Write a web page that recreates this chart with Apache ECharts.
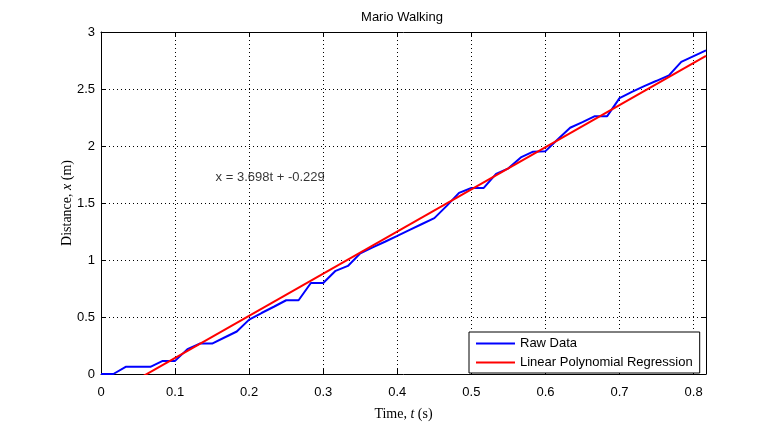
<!DOCTYPE html>
<html>
<head>
<meta charset="utf-8">
<script src="https://cdn.jsdelivr.net/npm/echarts@6/dist/echarts.min.js"></script>
<style>
html,body{margin:0;padding:0;background:#fff;}
#chart{width:779px;height:426px;}
</style>
</head>
<body>
<div id="chart"></div>
<script>
// Time samples (s)
const timeValues = [0, 0.0167, 0.0333, 0.05, 0.0667, 0.0833, 0.1, 0.1167, 0.1333, 0.15,
  0.1667, 0.1833, 0.2, 0.2167, 0.2333, 0.25, 0.2667, 0.2833, 0.3, 0.3167,
  0.3333, 0.35, 0.3667, 0.3833, 0.4, 0.4167, 0.4333, 0.45, 0.4667, 0.4833,
  0.5, 0.5167, 0.5333, 0.55, 0.5667, 0.5833, 0.6, 0.6167, 0.6333, 0.65,
  0.6667, 0.6833, 0.7, 0.7167, 0.7333, 0.75, 0.7667, 0.7833, 0.8, 0.8167];
// Raw distance (m)
const rawDistance = [0, 0, 0.063, 0.063, 0.063, 0.115, 0.115, 0.218, 0.267, 0.267,
  0.32, 0.373, 0.477, 0.535, 0.59, 0.647, 0.647, 0.798, 0.798, 0.905,
  0.948, 1.058, 1.11, 1.16, 1.212, 1.265, 1.316, 1.367, 1.475, 1.589,
  1.632, 1.632, 1.755, 1.804, 1.90, 1.95, 1.955, 2.06, 2.16, 2.21,
  2.262, 2.262, 2.42, 2.475, 2.525, 2.572, 2.62, 2.738, 2.789, 2.839];
// Regression line end points
const fitTime = [0, 0.8167];
const fitDistance = [-0.229, 2.791];
// Annotation
const annotText = 'x = 3.698t + -0.229';
const annotPos = [0.15, 1.72];
const seriesNames = ['Raw Data', 'Linear Polynomial Regression'];

const rawData = timeValues.map((t, i) => [t, rawDistance[i]]);
const fitData = fitTime.map((t, i) => [t, fitDistance[i]]);

const SANS = 'Liberation Sans';
const SERIF = 'Liberation Serif';
const black = '#000';

const chart = echarts.init(document.getElementById('chart'), null, {renderer: 'canvas'});

const commonX = {
  type: 'value', min: 0, max: 0.8167, interval: 0.1,
  axisLine: {show: true, onZero: false, lineStyle: {color: black, width: 1}},
  axisTick: {show: true, inside: true, length: 5, lineStyle: {color: black}},
};
const commonY = {
  type: 'value', min: 0, max: 3, interval: 0.5,
  axisLine: {show: true, onZero: false, lineStyle: {color: black, width: 1}},
  axisTick: {show: true, inside: true, length: 5, lineStyle: {color: black}},
};

chart.setOption({
  animation: false,
  backgroundColor: '#fff',
  title: {
    text: 'Mario Walking', left: 402, top: 11, textAlign: 'center', padding: 0,
    textStyle: {fontSize: 13, fontWeight: 'normal', fontFamily: SANS, color: black}
  },
  grid: {left: 101, top: 32, width: 605, height: 347, containLabel: false,
    show: true, backgroundColor: '#fff', borderWidth: 0},
  legend: {
    data: seriesNames, orient: 'vertical', left: 469, top: 332,
    backgroundColor: '#fff', borderColor: black, borderWidth: 1,
    padding: [5, 7, 4, 7], itemWidth: 39, itemHeight: 2, itemGap: 6,
    icon: 'rect', selectedMode: false,
    textStyle: {fontSize: 13, fontFamily: SANS, color: black}
  },
  xAxis: [
    Object.assign({}, commonX, {
      position: 'bottom',
      name: '{n|Time, }{i|t}{n| (s)}', nameLocation: 'middle', nameGap: 33,
      nameTextStyle: {
        fontFamily: SERIF, fontSize: 14, color: black,
        rich: {
          n: {fontFamily: SERIF, fontSize: 14, color: black},
          i: {fontFamily: SERIF, fontSize: 14, color: black, fontStyle: 'italic'}
        }
      },
      axisLabel: {show: true, margin: 12, fontSize: 13, fontFamily: SANS, color: black,
        showMaxLabel: false},
      splitLine: {show: true, lineStyle: {color: black, width: 1, type: [1, 3]}}
    }),
    Object.assign({}, commonX, {
      position: 'top',
      axisLabel: {show: false},
      splitLine: {show: false}
    })
  ],
  yAxis: [
    Object.assign({}, commonY, {
      position: 'left',
      name: '{n|Distance, }{i|x}{n| (m)}', nameLocation: 'middle', nameGap: 27,
      nameMoveOverlap: false,
      nameTextStyle: {
        fontFamily: SERIF, fontSize: 14, color: black,
        rich: {
          n: {fontFamily: SERIF, fontSize: 14, color: black},
          i: {fontFamily: SERIF, fontSize: 14, color: black, fontStyle: 'italic'}
        }
      },
      axisLabel: {show: true, margin: 6, fontSize: 13, fontFamily: SANS, color: black},
      splitLine: {show: true, lineStyle: {color: black, width: 1, type: [1, 3]}}
    }),
    Object.assign({}, commonY, {
      position: 'right',
      axisLabel: {show: false},
      splitLine: {show: false}
    })
  ],
  series: [
    {
      name: seriesNames[0], type: 'line', data: rawData,
      xAxisIndex: 0, yAxisIndex: 0,
      showSymbol: false, symbol: 'none', clip: true,
      lineStyle: {color: '#0000ff', width: 2},
      itemStyle: {color: '#0000ff'},
      z: 3
    },
    {
      name: seriesNames[1], type: 'line', data: fitData,
      xAxisIndex: 0, yAxisIndex: 0,
      showSymbol: false, symbol: 'none', clip: true,
      lineStyle: {color: '#ff0000', width: 2},
      itemStyle: {color: '#ff0000'},
      z: 4
    },
    {
      name: 'annotation', type: 'scatter', data: [annotPos],
      xAxisIndex: 0, yAxisIndex: 0,
      symbolSize: 1, silent: true,
      itemStyle: {color: 'rgba(0,0,0,0)'},
      label: {show: true, position: 'right', distance: 3, formatter: annotText,
        fontSize: 13, fontFamily: SANS, color: black},
      z: 5
    }
  ]
});
</script>
</body>
</html>
